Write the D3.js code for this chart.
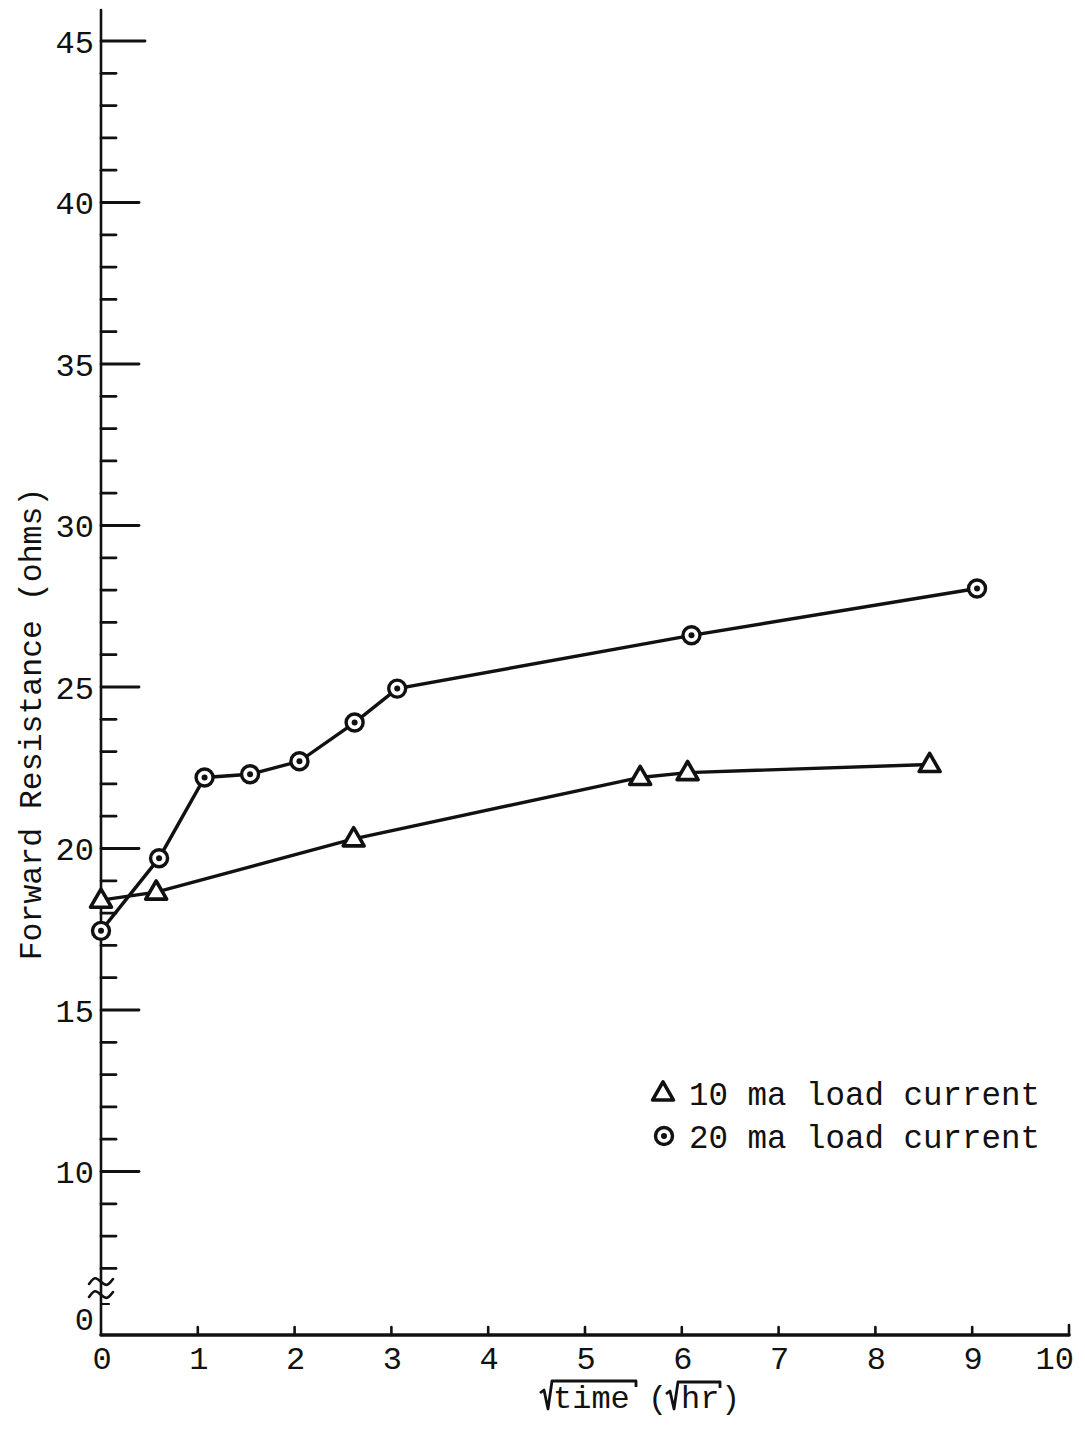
<!DOCTYPE html>
<html>
<head>
<meta charset="utf-8">
<script src="https://cdn.jsdelivr.net/npm/d3@7"></script>
<style>
  html, body { margin: 0; padding: 0; background: #fff; }
  svg { display: block; }
  text { font-family: "Liberation Mono", "DejaVu Sans Mono", monospace; fill: #111; }
</style>
</head>
<body>
<svg id="chart" width="1085" height="1431"></svg>
<script>
// sqrt(time) in sqrt(hr), forward resistance in ohms
const tenMaTime  = [0, 0.57, 2.61, 5.57, 6.06, 8.56];
const tenMaOhms  = [18.4, 18.65, 20.3, 22.2, 22.35, 22.6];
const twentyMaTime = [0, 0.6, 1.07, 1.54, 2.05, 2.62, 3.06, 6.1, 9.05];
const twentyMaOhms = [17.45, 19.7, 22.2, 22.3, 22.7, 23.9, 24.95, 26.6, 28.05];

const xTicks = [0, 1, 2, 3, 4, 5, 6, 7, 8, 9, 10];
const yMajorTicks = [10, 15, 20, 25, 30, 35, 40, 45];
const yMinorTicks = d3.range(7, 45).filter(v => v % 5 !== 0);
const legendLabels = ["10 ma load current", "20 ma load current"];
const yTitle = "Forward Resistance (ohms)";

const svg = d3.select("#chart");
const ink = "#111";

// x: 0..10 along the bottom axis
const x = d3.scaleLinear().domain([0, 10]).range([101, 1069]);
// y: broken axis — values below ~6 are squeezed toward zero
const y = d3.scaleLinear().domain([0, 6.3, 45]).range([1318, 1291, 41]);
const axisY = 1335;

// axes lines
const axes = svg.append("g").attr("stroke", ink).attr("fill", "none").attr("stroke-linecap", "round");
axes.append("line").attr("x1", x(0)).attr("x2", x(0)).attr("y1", 10).attr("y2", axisY).attr("stroke-width", 2.6);
axes.append("line").attr("x1", x(0)).attr("x2", x(10)).attr("y1", axisY).attr("y2", axisY).attr("stroke-width", 3.6);

// y ticks (drawn inside, toward the plot)
axes.selectAll(".ymaj").data(yMajorTicks).join("line")
  .attr("x1", x(0)).attr("x2", d => d === 45 ? x(0) + 44 : x(0) + 38)
  .attr("y1", d => y(d)).attr("y2", d => y(d)).attr("stroke-width", 2.8);
axes.selectAll(".ymin").data(yMinorTicks).join("line")
  .attr("x1", x(0)).attr("x2", x(0) + 15)
  .attr("y1", d => y(d)).attr("y2", d => y(d)).attr("stroke-width", 2.8);
// short zero tick below the break
axes.append("line").attr("x1", x(0)).attr("x2", x(0) + 8)
  .attr("y1", y(0) - 14).attr("y2", y(0) - 14).attr("stroke-width", 2.2);

// axis break squiggles
const sq = d3.line().curve(d3.curveBasis);
[y(6.3) - 10, y(6.3) + 3].forEach(cy => {
  const pts = [[x(0) - 12, cy + 3], [x(0) - 6, cy - 5], [x(0), cy + 1], [x(0) + 6, cy + 6], [x(0) + 12, cy - 2]];
  axes.append("path").attr("d", sq(pts)).attr("stroke-width", 2.6);
});

// x ticks (drawn upward), with a raised end at 10
axes.selectAll(".xt").data(xTicks.slice(1)).join("line")
  .attr("x1", d => x(d)).attr("x2", d => x(d))
  .attr("y1", axisY).attr("y2", d => axisY - (d === 10 ? 10 : 8)).attr("stroke-width", 2.6);

// tick labels
svg.append("g").selectAll("text").data([0].concat(yMajorTicks)).join("text")
  .attr("x", 94).attr("y", d => y(d)).attr("dy", "0.36em")
  .attr("text-anchor", "end").attr("font-size", 32)
  .text(d => d);
svg.append("g").selectAll("text").data(xTicks).join("text")
  .attr("x", d => d === 10 ? x(d) + 5 : x(d) + 1).attr("y", 1369)
  .attr("text-anchor", d => d === 10 ? "end" : "middle").attr("font-size", 32)
  .text(d => d);

// y-axis title
svg.append("text")
  .attr("transform", "translate(41,724) rotate(-90)")
  .attr("text-anchor", "middle").attr("font-size", 31.5)
  .text(yTitle);

// x-axis title: √time (√hr), radicals drawn as strokes with overbars
function radical(x0, x1, top, bottom) {
  const p = d3.path();
  p.moveTo(x0, top + 12);
  p.lineTo(x0 + 4, top + 9);
  p.lineTo(x0 + 8, bottom);
  p.lineTo(x0 + 12, top);
  p.lineTo(x1, top);
  p.lineTo(x1, top + 6);
  svg.append("path").attr("d", p.toString()).attr("fill", "none")
    .attr("stroke", ink).attr("stroke-width", 2.8).attr("stroke-linejoin", "round");
}
radical(540, 636, 1381, 1409);
radical(666, 720, 1382, 1409);
const xTitle = svg.append("g").attr("font-size", 32);
xTitle.append("text").attr("x", 553).attr("y", 1408).text("time");
xTitle.append("text").attr("x", 648).attr("y", 1408).text("(");
xTitle.append("text").attr("x", 681).attr("y", 1408).text("hr");
xTitle.append("text").attr("x", 721).attr("y", 1408).text(")");

// series lines
const lineGen = d3.line().x(d => x(d[0])).y(d => y(d[1]));
const d10 = tenMaTime.map((t, i) => [t, tenMaOhms[i]]);
const d20 = twentyMaTime.map((t, i) => [t, twentyMaOhms[i]]);

svg.append("path").attr("d", lineGen(d10))
  .attr("fill", "none").attr("stroke", ink).attr("stroke-width", 3.4);
svg.append("path").attr("d", lineGen(d20))
  .attr("fill", "none").attr("stroke", ink).attr("stroke-width", 3.4);

// markers
const tri = d3.symbol().type(d3.symbolTriangle).size(190);
function drawTriangle(g, cx, cy) {
  g.append("path").attr("d", tri()).attr("transform", `translate(${cx},${cy + 1})`)
    .attr("fill", "#fff").attr("stroke", ink).attr("stroke-width", 3.6).attr("stroke-linejoin", "round");
}
function drawCircle(g, cx, cy) {
  g.append("circle").attr("cx", cx).attr("cy", cy).attr("r", 8.5)
    .attr("fill", "#fff").attr("stroke", ink).attr("stroke-width", 3.4);
  g.append("circle").attr("cx", cx).attr("cy", cy).attr("r", 3).attr("fill", ink);
}
const marks = svg.append("g");
d10.forEach(d => drawTriangle(marks, x(d[0]), y(d[1])));
d20.forEach(d => drawCircle(marks, x(d[0]), y(d[1])));

// legend
const legend = svg.append("g");
drawTriangle(legend, 663, 1093);
drawCircle(legend, 664, 1136);
legend.selectAll("text").data(legendLabels).join("text")
  .attr("x", 689).attr("y", (d, i) => 1093 + i * 43).attr("dy", "0.36em")
  .attr("font-size", 32.5).text(d => d);
</script>
</body>
</html>
